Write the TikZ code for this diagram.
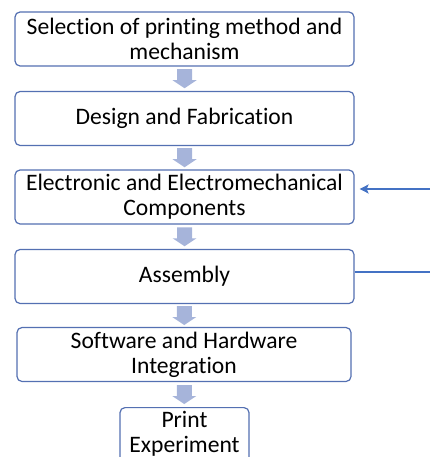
\documentclass[tikz,border=0pt]{standalone}
\usepackage{fontspec}
\setmainfont{Carlito}[Ligatures=NoCommon]
\usetikzlibrary{calc,arrows.meta}

\definecolor{boxblue}{RGB}{84,112,178}
\definecolor{flowgray}{RGB}{166,180,218}
\definecolor{linkblue}{RGB}{68,114,196}

\tikzset{
  stage/.style={draw=boxblue,line width=1.2pt,rounded corners=5pt,fill=white,
    minimum width=339pt,minimum height=54pt,inner sep=0pt,align=center,
    font=\fontsize{23.6}{25}\selectfont},
  feed/.style={draw=linkblue,line width=1.8pt},
}

% block arrow from node #1 down to node #2
\newcommand{\downflow}[2]{%
  \fill[flowgray] ($(#1.south)!0.5!(#2.north)+(-7.5,-9.5)$) -- ++(15,0) -- ++(0,11)
    -- ++(4.5,0) -- ++(-12,8) -- ++(-12,-8) -- ++(4.5,0) -- cycle;}

\begin{document}
\begin{tikzpicture}[x=1pt,y=-1pt]
    \useasboundingbox (0,0) rectangle (430,457);
    \clip (0,0) rectangle (430,457);
    \node [stage] (s1) at (184.5,39)  {Selection of printing method and\\mechanism};
    \node [stage] (s2) at (184.5,118.5) {Design and Fabrication};
    \node [stage] (s3) at (184.5,197) {Electronic and Electromechanical\\Components};
    \node [stage] (s4) at (184.5,276.5) {Assembly};
    \node [stage,minimum width=334pt] (s5) at (184,354.5) {Software and Hardware\\Integration};
    \node [stage,minimum width=129pt,minimum height=58pt,anchor=north] (s6) at (184.5,407) {Print\\Experiment\\[-16pt]};
    \downflow{s1}{s2}
    \downflow{s2}{s3}
    \downflow{s3}{s4}
    \downflow{s4}{s5}
    \downflow{s5}{s6}
    \coordinate (fbin) at (430,189);
    \coordinate (fbout) at (430,272);
    \draw [feed] (s4.east |- fbout) -- (fbout);
    \draw [feed,-{Stealth[length=9pt,width=9pt,inset=2pt]}] (fbin) -- ($(s3.east |- fbin)+(5,0)$);
\end{tikzpicture}
\end{document}
